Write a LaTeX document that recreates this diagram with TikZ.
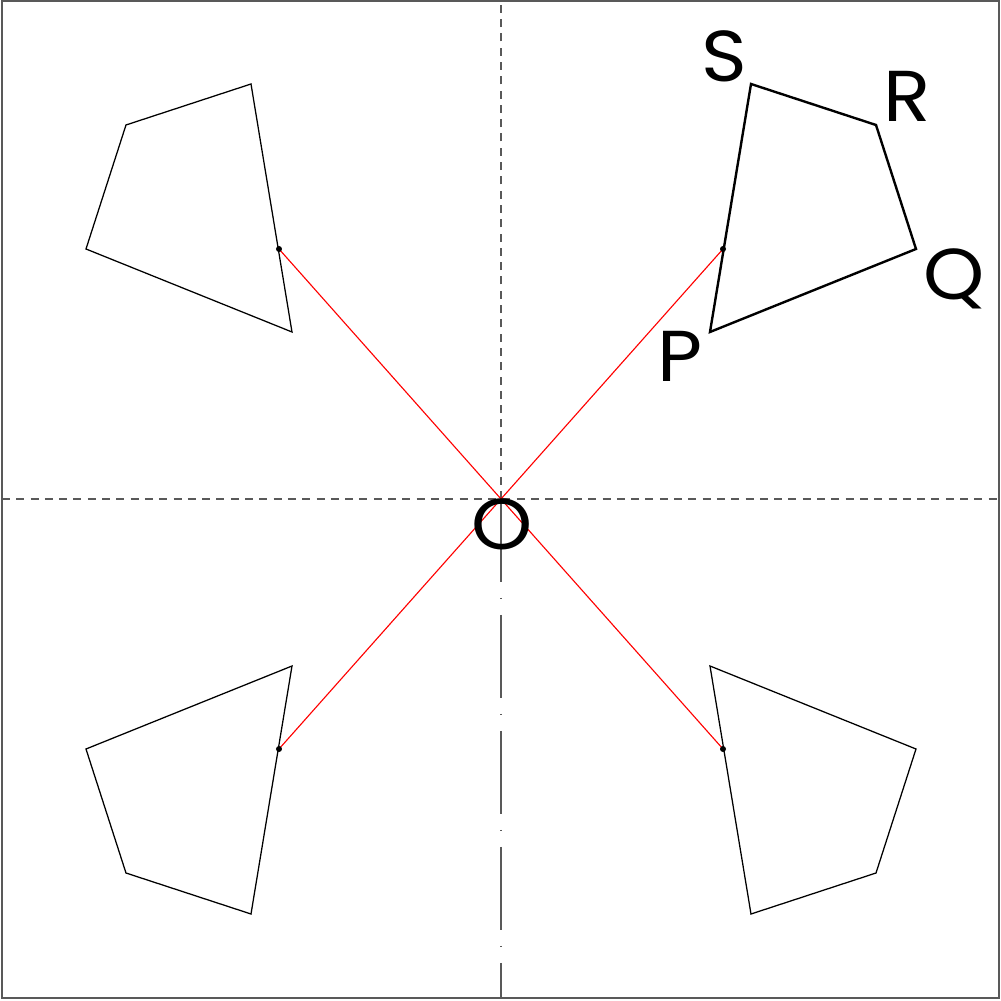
\documentclass[tikz,border=0pt]{standalone}
\usepackage{fontspec}
\setmainfont{Poppins}
\begin{document}
\begin{tikzpicture}[x=0.1mm,y=0.1mm,
  axis/.style={draw=black!65,line width=0.45pt},
  dashaxis/.style={axis,dash pattern=on 0.8mm off 0.63mm},
  dashdotaxis/.style={axis,dash pattern=on 8.3mm off 1.6mm on 0.1mm off 1.6mm},
  quad/.style={draw=black,line width=0.36pt,line join=miter},
  quadthick/.style={draw=black,line width=0.68pt,line join=miter},
  ray/.style={draw=red,line width=0.32pt},
  lbl/.style={anchor=base,inner sep=0pt,xscale=1.08,font=\fontsize{20.5}{22}\selectfont}]
\useasboundingbox (-501,-502) rectangle (500,499);
\draw[axis] (-499,-499) rectangle (498,498);
\coordinate (O) at (0,0);
\coordinate (Wend) at (-499,0);
\coordinate (Eend) at (498,0);
\coordinate (Nend) at (0,498);
\coordinate (Send) at (0,-499);
\draw[dashaxis] (Wend) -- (Eend);
\draw[dashaxis] (O) -- (Nend);
\draw[dashdotaxis] (O) -- (Send);
\foreach \n/\sx/\sy/\st in {a/1/1/quadthick,b/-1/1/quad,c/1/-1/quad,d/-1/-1/quad}{
  \begin{scope}[xscale=\sx,yscale=\sy]
    \coordinate (S\n) at (250,415);
    \coordinate (R\n) at (375,374);
    \coordinate (Q\n) at (415,250);
    \coordinate (P\n) at (209,167);
    \coordinate (M\n) at (222,250);
  \end{scope}
  \draw[\st] (P\n) -- (Q\n) -- (R\n) -- (S\n) -- cycle;
  \draw[ray] (O) -- (M\n);
  \fill (M\n) circle (3);
}
\node[lbl] (labS) at (223,417) {S};
\node[lbl] (labR) at (406,377) {R};
\node[lbl] (labQ) at (453,199) {Q};
\node[lbl] (labP) at (179,117) {P};
\node[lbl] (labO) at (1,-51) {O};
\end{tikzpicture}
\end{document}
